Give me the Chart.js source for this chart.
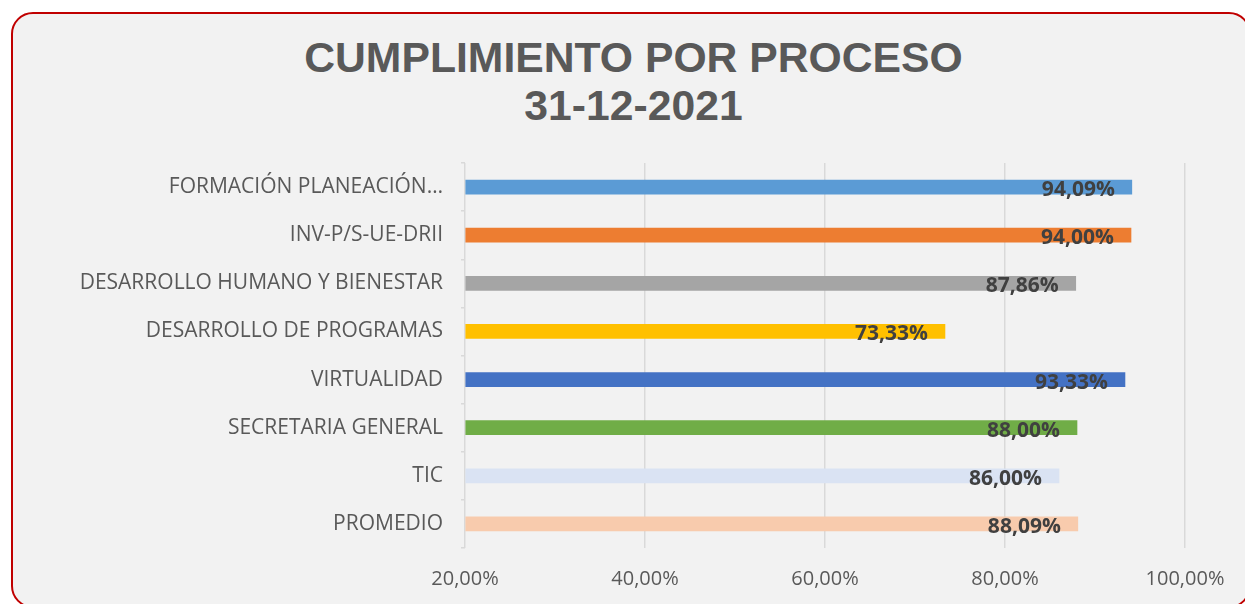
<!DOCTYPE html>
<html>
<head>
<meta charset="utf-8">
<script src="https://cdn.jsdelivr.net/npm/chart.js@4"></script>
<style>
  html, body { margin: 0; padding: 0; background: #fff; overflow: hidden; }
  #box {
    position: absolute; left: 11px; top: 12px; width: 1240px; height: 596px;
    background: #f2f2f2; border: 2px solid #c00000; border-radius: 22px; box-sizing: border-box;
  }
  #title {
    position: absolute; left: 0; top: 33px; width: 1267px; text-align: center;
    font: bold 42.7px "Liberation Sans", Arial, sans-serif; color: #595959; line-height: 48px;
  }
  #wrap { position: absolute; left: 0; top: 0; width: 1245px; height: 604px; }
</style>
</head>
<body>
<div id="box"></div>
<div id="title">CUMPLIMIENTO POR PROCESO<br>31-12-2021</div>
<div id="wrap"><canvas id="myChart"></canvas></div>
<script>
  // datos
  var categorias = ['FORMACIÓN PLANEACIÓN…', 'INV-P/S-UE-DRII', 'DESARROLLO HUMANO Y BIENESTAR',
    'DESARROLLO DE PROGRAMAS', 'VIRTUALIDAD', 'SECRETARIA GENERAL', 'TIC', 'PROMEDIO'];
  var valores = [94.09, 94.00, 87.86, 73.33, 93.33, 88.00, 86.00, 88.09];
  var colores = ['#5b9bd5', '#ed7d31', '#a5a5a5', '#ffc000', '#4472c4', '#70ad47', '#dae3f3', '#f8cbad'];
  var ticksX = [20, 40, 60, 80, 100];

  function fmt(v) {
    return v.toFixed(2).replace('.', ',') + '%';
  }

  // etiquetas de datos
  var etiquetas = {
    id: 'etiquetas',
    afterDatasetsDraw: function(chart) {
      var ctx = chart.ctx;
      var meta = chart.getDatasetMeta(0);
      ctx.save();
      ctx.font = 'bold 21px "Open Sans", sans-serif';
      ctx.fillStyle = '#404040';
      ctx.textAlign = 'right';
      ctx.textBaseline = 'middle';
      meta.data.forEach(function(bar, i) {
        ctx.fillText(fmt(valores[i]), bar.x - 17, bar.y + 3);
      });
      ctx.restore();
    }
  };

  var ctx = document.getElementById('myChart').getContext('2d');
  var chart = new Chart(ctx, {
      type: 'bar',
      data: {
          labels: categorias,
          datasets: [{
              data: valores,
              backgroundColor: colores,
              borderWidth: 0,
              barThickness: 14,
              base: 20
          }]
      },
      options: {
          responsive: true,
          maintainAspectRatio: false,
          animation: false,
          indexAxis: 'y',
          layout: { padding: { top: 163, right: 60, bottom: 0, left: 0 } },
          plugins: {
              legend: { display: false },
              tooltip: { enabled: false }
          },
          scales: {
              x: {
                  min: 20, max: 100,
                  afterBuildTicks: function(axis) {
                      axis.ticks = ticksX.map(function(v) { return { value: v }; });
                  },
                  afterFit: function(axis) { axis.height = 56; },
                  grid: { color: '#d9d9d9', lineWidth: 1.5, drawTicks: false },
                  border: { display: false },
                  ticks: {
                      padding: 19,
                      color: '#595959',
                      font: { family: '"Open Sans", sans-serif', size: 20 },
                      callback: function(v) { return fmt(v); }
                  }
              },
              y: {
                  afterFit: function(axis) { axis.width = 465; },
                  grid: { display: true, drawOnChartArea: false, offset: true, tickLength: 4, color: '#d9d9d9', lineWidth: 1.5 },
                  border: { display: false },
                  ticks: {
                      padding: 18,
                      color: '#595959',
                      font: { family: '"Open Sans", sans-serif', size: 21 }
                  }
              }
          }
      },
      plugins: [etiquetas]
  });
</script>
</body>
</html>
